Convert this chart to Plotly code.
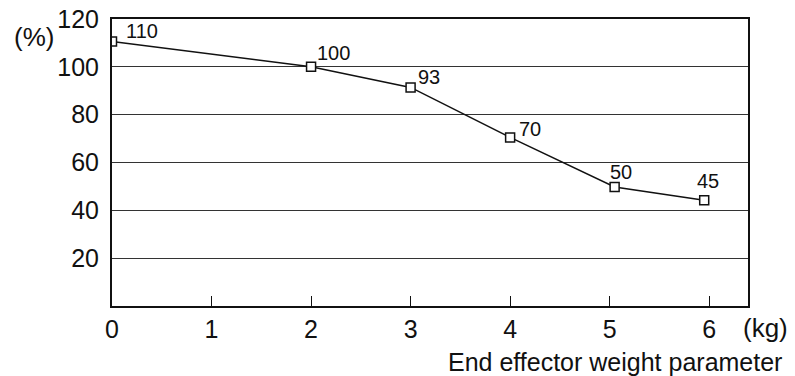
import plotly.graph_objects as go

# end effector weight (kg) vs. allowed value (%)
weight_kg = [0, 2, 3, 4, 5.05, 5.95]
percent = [110.6, 100, 91.4, 70.5, 49.8, 44.2]
point_labels = ["110", "100", "93", "70", "50", "45"]
x_ticks = [0, 1, 2, 3, 4, 5, 6]
y_ticks = [20, 40, 60, 80, 100, 120]

FONT = "Liberation Sans, Arial, sans-serif"
INK = "#111111"

# page body has an 8px margin, so the figure margins are trimmed by 8px
L, R, T, B = 104, 55, 11, 78
PW, PH = 795 - L - R, 376 - T - B


def px(x_abs, y_abs):
    # window pixel -> paper coordinates
    return (x_abs - 8 - L) / PW, (376 - B - (y_abs - 8)) / PH


fig = go.Figure()
fig.add_trace(go.Scatter(
    x=weight_kg, y=percent, mode="lines+markers",
    line=dict(color=INK, width=1.5),
    marker=dict(symbol="square", size=9, color="white",
                line=dict(color=INK, width=1.5)),
    showlegend=False, hoverinfo="skip"
))

# label offsets (px) relative to each marker
label_shift = [(12, 10), (4, 14), (5, 10), (7, 8), (-7, 15), (-9, 19)]
for x, y, t, (dx, dy) in zip(weight_kg, percent, point_labels, label_shift):
    fig.add_annotation(x=x, y=y, text=t, showarrow=False,
                       xanchor="left", yanchor="middle",
                       xshift=dx, yshift=dy,
                       font=dict(family=FONT, size=20, color=INK))

ax, ay = px(34, 37)
fig.add_annotation(xref="paper", yref="paper", x=ax, y=ay, text="(%)",
                   showarrow=False, xanchor="center", yanchor="middle",
                   font=dict(family=FONT, size=26, color=INK))
ax, ay = px(741, 328)
fig.add_annotation(xref="paper", yref="paper", x=ax, y=ay, text="(kg)",
                   showarrow=False, xanchor="left", yanchor="middle",
                   font=dict(family=FONT, size=26, color=INK))
ax, ay = px(784, 362)
fig.add_annotation(xref="paper", yref="paper", x=ax, y=ay,
                   text="End effector weight parameter",
                   showarrow=False, xanchor="right", yanchor="middle",
                   font=dict(family=FONT, size=25, color=INK))

fig.update_xaxes(
    range=[0, 6.39], tickvals=x_ticks, ticktext=[str(v) for v in x_ticks],
    ticks="inside", ticklen=10, tickwidth=1, tickcolor=INK,
    showline=True, linewidth=2, linecolor=INK, mirror=True,
    showgrid=False, zeroline=False, automargin=False,
    ticklabeloverflow="allow",
    tickfont=dict(family=FONT, size=25, color=INK),
)
fig.update_yaxes(
    range=[0, 120], tickvals=y_ticks, ticktext=[str(v) for v in y_ticks],
    ticks="", ticklabelstandoff=6,
    showline=True, linewidth=2, linecolor=INK, mirror=True,
    showgrid=True, gridcolor="#333333", gridwidth=1, zeroline=False,
    automargin=False, ticklabeloverflow="allow",
    tickfont=dict(family=FONT, size=25, color=INK),
)
fig.update_layout(
    width=795, height=376,
    margin=dict(l=L, r=R, t=T, b=B),
    plot_bgcolor="white", paper_bgcolor="white",
)

fig.write_html("out.html")
